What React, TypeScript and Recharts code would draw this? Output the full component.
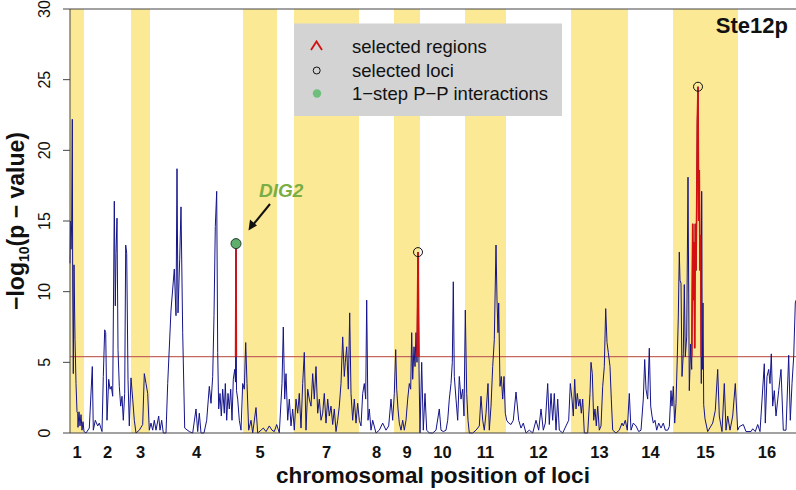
import React from "react";
import {
  ComposedChart,
  Line,
  Scatter,
  XAxis,
  YAxis,
  ReferenceArea,
  ReferenceLine,
} from "recharts";

// chromosome layout along the locus axis
const chromNames = ["1", "2", "3", "4", "5", "6", "7", "8", "9", "10", "11", "12", "13", "14", "15", "16"];
const chromStarts = [0, 14, 61, 80, 173, 207, 224, 289, 324, 350, 395, 436, 501, 558, 603, 668];
const genomeEnd = 726;
const skippedLabels = ["6"]; // R dropped this one (overlap)

const yTicks = [0, 5, 10, 15, 20, 25, 30];
const threshold = 5.4;

// [locus position, -log10(p)]
const scan: [number, number][] = [
  // chr1
  [0, 12], [0.5, 15], [1, 13], [1.7, 15], [2.3, 22.2], [2.7, 10.4], [3.3, 4.2], [4, 11.9], [5, 6.6], [6, 3.5],
  [7, 1.5], [7.7, 1.4], [8, 0.4], [9, 1.5], [10, 0.5], [11, 1.3], [12, 0.2], [13, 0.8], [14, 0.1],
  // chr2
  [16, 0], [19.3, 0.35], [22.3, 4.7], [23.3, 0.2], [25.3, 0.9], [27.7, 0.5], [29.3, 0.7], [32, 0.1], [33.3, 4],
  [34.7, 7.3], [35.7, 7.1], [37, 0.9], [38.7, 3.8], [40, 3.1], [41.3, 3.3], [42.7, 2.6], [44.3, 16.4], [45.3, 9],
  [46, 12.7], [47, 15.2], [48, 5.9], [49.3, 3.3], [50.7, 1.9], [52, 2.6], [53.3, 0.9], [54.7, 2.8], [55.7, 13.3],
  [56.7, 12.7], [58, 3.8], [59.3, 0.5],
  // chr3
  [61, 3.9], [62.7, 2.4], [64.3, 0.9], [66, 0], [69.3, 0.2], [72.7, 0.6], [74.3, 4.2], [76, 3.5], [77.7, 2.8], [79.3, 0.2],
  // chr4
  [81, 0.7], [82.7, 0.2], [84.3, 0.9], [86, 0.2], [88.7, 1.2], [90, 0.2], [91.7, 0.9], [93.3, 0], [96, 0], [97.7, 3.5],
  [101, 8.7], [104.3, 11.6], [106, 8.3], [107, 18.7], [108, 8.5], [109.7, 12.3], [111, 16], [112.7, 7.1], [114.7, 0.35],
  [119.3, 0.1], [122.7, 0], [126, 1.7], [127.7, 0.1], [129.3, 1.4], [131, 0], [134, 0], [136.7, 0.9], [139.3, 3.3],
  [141, 2.1], [142.7, 4], [144, 8.3], [145.3, 14.6], [146.7, 17.1], [147.7, 5.7], [148.7, 1.7], [150, 2.8], [151.3, 1.2],
  [152.7, 3.1], [154.3, 1.4], [155.3, 3.5], [156.7, 0.9], [158, 2.8], [159.3, 1.7], [160.7, 3.1], [162, 0.9], [163.3, 3.8],
  [164.7, 4.5], [165.5, 3.6], [166, 13.4], [166.5, 3], [167.7, 2.4], [169.3, 0.9], [171, 0.2], [172.7, 3.5],
  // chr5
  [174.3, 3.1], [175.7, 6.4], [177, 3.5], [178.7, 0.2], [181, 0.9], [182.7, 0], [186, 1.8], [187.7, 0], [191, 0.2],
  [193.3, 0.35], [196, 0.1], [199.3, 0.5], [202, 0.2], [204.3, 0.1], [206.7, 0.6],
  // chr6
  [209.3, 0], [212, 3.5], [213.3, 7.5], [214.7, 2.4], [216, 4.2], [217.7, 0.9], [219.3, 2.4], [221, 0.5], [222.7, 1.7], [224.3, 0.2],
  // chr7
  [226, 2.4], [227.7, 1.4], [229.3, 2.8], [231, 0.35], [232.7, 3.5], [234.3, 5.7], [236, 0.2], [237.7, 3.1], [239.3, 2.4],
  [241, 1.9], [242.7, 4.2], [244.3, 2.4], [246, 4.7], [247.7, 1.4], [249.3, 2.4], [251, 0.9], [252.7, 1.4], [254.3, 2.8],
  [256, 0.7], [257.7, 2.4], [259.3, 1.2], [261, 1.9], [262.7, 0.6], [264.3, 1.7], [266, 0.1], [267.7, 0.9], [269.3, 1.9],
  [271, 3.5], [272.7, 6.8], [274.3, 4], [275.3, 5], [276.7, 6.1], [278.3, 3.1], [279.7, 8.5], [281, 2.8], [282.7, 0.9],
  [284.3, 2.4], [286, 0.7], [287.7, 2.1],
  // chr8
  [289.3, 0.9], [291, 0.5], [292.7, 2.8], [294.3, 3.5], [295.7, 2.4], [296.7, 9.4], [298, 0.9], [299.3, 1.7], [301, 0.2],
  [302.7, 0.9], [306, 0], [309.3, 0.2], [312.7, 0.7], [316, 0.2], [318.7, 0.5], [321, 2.4], [322.7, 0.9],
  // chr9
  [324.3, 2.8], [325.7, 5.9], [326.7, 3.1], [328, 1.7], [329.3, 0.7], [331, 0.2], [332.7, 0.9], [334.3, 0.2], [336, 0.9],
  [337.7, 2.4], [339.3, 3.5], [340.7, 3.1], [341.7, 7.1], [342.7, 3.8], [344, 6.1], [345, 4.7], [346, 7.1], [347, 5],
  [348, 12.8], [349, 4.5], [350, 0],
  // chr10
  [351.7, 5], [353.3, 0.2], [355, 2.8], [356.7, 0.2], [359.3, 0], [362.7, 0], [366, 0.2], [369.3, 1.7], [371, 0.2],
  [373.3, 0.1], [376, 0.2], [377.7, 0.9], [379.3, 2.4], [381, 3.5], [382.3, 5], [383.3, 10.7], [384.3, 4], [386, 2.4],
  [387.7, 0.9], [389.3, 4], [391, 2.4], [392.7, 3.1], [394, 1.2],
  // chr11
  [395.3, 8.7], [396.7, 2.8], [398, 0.9], [399.3, 0], [402.7, 0], [406, 0.2], [409.3, 0.5], [411, 2.6], [412.7, 0.9],
  [414.3, 0.2], [416, 1.4], [418, 3.5], [419.3, 0.2], [421, 1.9], [422.7, 4.7], [424.3, 6.6], [426, 13.3], [427, 9.4],
  [428, 7.1], [428.7, 9.2], [430, 3.3], [431.3, 4], [432.7, 2.4], [434, 4], [435.3, 1.4],
  // chr12
  [436.7, 0.9], [438.7, 0.7], [441, 0.6], [443.3, 0.9], [446, 2.9], [448.7, 0.9], [451, 0.35], [453.3, 0.7], [456, 0],
  [459.3, 0.2], [462.7, 0], [466, 0.9], [468.7, 0.2], [471, 1.7], [473.3, 0.2], [475.3, 0.7], [477.7, 3.5], [479.3, 0.6],
  [481, 2.8], [482.7, 0.9], [484.3, 2.8], [486, 0.2], [487.7, 2.4], [489.3, 0.2], [492.7, 0], [496, 0.5], [498.7, 0.9],
  [500.3, 3.5],
  // chr13
  [502, 2.4], [503.3, 1.2], [504.7, 3.8], [506, 1.7], [507.3, 2.8], [508.7, 1.9], [510, 2.4], [511.3, 1.4], [512.7, 2.4],
  [514.3, 0], [517.7, 0], [520, 2.8], [521, 5], [522.3, 4.2], [523.7, 0.9], [525, 1.7], [526.3, 0.5], [527.7, 1.9],
  [529.3, 0.2], [531, 0.5], [532.7, 3.3], [534.3, 4.7], [535.7, 8.8], [537, 6.4], [538.3, 5.7], [540, 4.7], [541.3, 2.4],
  [542.7, 0.2], [546, 0], [549.3, 0.2], [552, 0.7], [553.3, 0.5], [555.3, 0.9], [557.3, 0.2],
  // chr14
  [559.3, 2.8], [561, 0.2], [563.3, 0.7], [566, 0.5], [568.7, 0.1], [571, 0.2], [573.3, 2.4], [574.7, 5.2], [576, 3.1],
  [577.7, 2.4], [579.3, 6], [580.7, 1.9], [582, 1.2], [583.3, 0.7], [585, 0.9], [586.7, 0.2], [588.7, 0.7], [591, 0.35],
  [593.3, 0.7], [595.3, 0.2], [597.7, 0.2], [599.3, 0.45], [601, 3], [602, 1.9],
  // chr15
  [603.3, 3.3], [604.7, 0.7], [606, 2.1], [607.3, 5.4], [608.3, 8.2], [609.3, 12.8], [610, 10.8], [611, 10.6], [612, 4],
  [613.3, 5.6], [614.3, 10.5], [615.3, 5.4], [616.7, 6.8], [618, 18.1], [618.7, 9.9], [619.3, 3], [620.7, 6.3], [621.7, 4.5],
  [622.7, 14.8], [623.3, 9.4], [624, 13.5], [624.7, 6], [625.3, 14.8], [626, 11.5], [626.7, 16], [627.3, 22], [628, 24.5],
  [628.7, 15], [629.3, 18.6], [630, 11.5], [630.7, 14], [631.3, 3.5], [631.7, 17.1], [632.3, 4.5], [633, 9.2], [633.7, 2],
  [635, 1], [637.7, 0.1], [642.7, 0.7], [645.3, 1.6], [647.7, 4.5], [649.3, 1.2], [652, 0.1], [654.3, 3.5], [656, 0.2],
  [657.7, 1.2], [660, 0.2], [662.7, 1.2], [665.3, 3.5], [667.7, 0.2],
  // chr16
  [669.3, 0.45], [673.3, 0.6], [676, 0.1], [681, 0.1], [682.7, 0.3], [685.3, 0.1], [687.7, 0.6], [690, 0.1], [694.3, 4.9],
  [695.3, 0.7], [697, 4], [698.7, 4.5], [700, 3.5], [701.3, 5.6], [702.7, 1.9], [704.3, 3], [706, 1.2], [708.7, 3],
  [711, 4.5], [713.3, 0.2], [716, 0.2], [718.7, 5.5], [720.3, 0.9], [722, 3.5], [723.7, 5.4], [725.3, 9.2], [726, 9.4],
];

// selected regions (drawn red where above threshold)
const selectedRegions: [number, number][] = [[165.8, 166.2], [347.5, 348.5], [622, 631.5]];
// selected loci (open circles) and 1-step P-P interaction (green dot)
const selectedLoci = [{ pos: 348, p: 12.8 }, { pos: 628, p: 24.5 }];
const ppInteractions = [{ pos: 166, p: 13.4, gene: "DIG2" }];

const FONT = '"Liberation Sans", Arial, Helvetica, sans-serif';
const YELLOW = "#fbe995";
const BLUE = "#14148a";
const RED = "#d41010";

const scanData = scan.map(([pos, p]) => ({ pos, p }));

function crossAt(a: [number, number], b: [number, number]) {
  return a[0] + ((threshold - a[1]) / (b[1] - a[1])) * (b[0] - a[0]);
}

function clipRegion([lo, hi]: [number, number]) {
  const out: { pos: number; p: number | null }[] = [];
  scan.forEach((pt, i) => {
    if (pt[0] < lo || pt[0] > hi || pt[1] < threshold) return;
    const prev = scan[i - 1];
    const next = scan[i + 1];
    if (prev && prev[1] < threshold) out.push({ pos: crossAt(prev, pt), p: threshold });
    out.push({ pos: pt[0], p: pt[1] });
    if (next && next[1] < threshold) {
      const x = crossAt(pt, next);
      out.push({ pos: x, p: threshold });
      out.push({ pos: x + 0.01, p: null });
    }
  });
  return out;
}

const chromBands = chromStarts.map((s, i) => ({
  name: chromNames[i],
  x1: s,
  x2: i + 1 < chromStarts.length ? chromStarts[i + 1] : genomeEnd,
}));
const labelTicks = chromBands.filter((c) => !skippedLabels.includes(c.name)).map((c) => (c.x1 + c.x2) / 2);
const labelFor = (v: number) => chromBands.find((c) => (c.x1 + c.x2) / 2 === v)?.name ?? "";

const XTick = ({ x, y, payload }: any) => (
  <text x={x} y={y + 17} textAnchor="middle" fontSize={16.5} fontWeight="bold" fill="#111" fontFamily={FONT}>
    {labelFor(payload.value)}
  </text>
);

const YTick = ({ x, y, payload }: any) => (
  <text
    x={x - 11}
    y={y}
    transform={`rotate(-90 ${x - 11} ${y})`}
    textAnchor="middle"
    fontSize={16}
    fill="#111"
    fontFamily={FONT}
  >
    {payload.value}
  </text>
);

const OpenCircle = ({ cx, cy }: any) => <circle cx={cx} cy={cy} r={4.5} fill="none" stroke="#111" strokeWidth={1} />;
const GreenDot = ({ cx, cy }: any) => <circle cx={cx} cy={cy} r={5} fill="#5fae6c" stroke="#2b3a2e" strokeWidth={1} />;

export default function App() {
  return (
    <div style={{ position: "absolute", left: 0, top: 0, width: 796, height: 490, background: "#fff", fontFamily: FONT }}>
      <ComposedChart width={796} height={490} margin={{ top: 9, right: 0, bottom: 0, left: 0 }}>
        {chromBands
          .filter((_, i) => i % 2 === 0)
          .map((c) => (
            <ReferenceArea key={c.name} x1={c.x1} x2={c.x2} y1={0} y2={30} fill={YELLOW} fillOpacity={1} stroke="none" />
          ))}
        <XAxis
          type="number"
          dataKey="pos"
          domain={[0, genomeEnd]}
          ticks={labelTicks}
          interval={0}
          height={57}
          tickLine={false}
          axisLine={{ stroke: "#444" }}
          tick={<XTick />}
          label={{
            content: ({ viewBox }: any) => (
              <text
                x={viewBox.x + viewBox.width / 2}
                y={viewBox.y + 50}
                textAnchor="middle"
                fontSize={22.5}
                fontWeight="bold"
                fill="#111"
                fontFamily={FONT}
              >
                chromosomal position of loci
              </text>
            ),
          }}
        />
        <YAxis
          type="number"
          domain={[0, 30]}
          ticks={yTicks}
          width={70}
          tickSize={7}
          tickLine={{ stroke: "#444" }}
          axisLine={{ stroke: "#444" }}
          tick={<YTick />}
          label={{
            content: ({ viewBox }: any) => {
              const cx = 24;
              const cy = viewBox.y + viewBox.height / 2;
              return (
                <text
                  transform={`translate(${cx} ${cy}) rotate(-90)`}
                  textAnchor="middle"
                  fontSize={23}
                  fontWeight="bold"
                  fill="#111"
                  fontFamily={FONT}
                >
                  −log
                  <tspan fontSize={14} dy={5}>10</tspan>
                  <tspan dy={-5}>(p − value)</tspan>
                </text>
              );
            },
          }}
        />
        <ReferenceLine y={30} stroke="#444" strokeWidth={1} />
        <ReferenceLine y={threshold} stroke="#c4675c" strokeWidth={1.2} />
        <Line
          data={scanData}
          dataKey="p"
          type="linear"
          stroke={BLUE}
          strokeWidth={1}
          dot={false}
          activeDot={false}
          isAnimationActive={false}
        />
        {selectedRegions.map((r, i) => (
          <Line
            key={i}
            data={clipRegion(r)}
            dataKey="p"
            type="linear"
            stroke={RED}
            strokeWidth={1.6}
            dot={false}
            activeDot={false}
            connectNulls={false}
            isAnimationActive={false}
          />
        ))}
        <Scatter data={selectedLoci} dataKey="p" shape={<OpenCircle />} isAnimationActive={false} />
        <Scatter data={ppInteractions} dataKey="p" shape={<GreenDot />} isAnimationActive={false} />
      </ComposedChart>

      <svg width={796} height={490} style={{ position: "absolute", left: 0, top: 0, pointerEvents: "none" }}>
        {/* legend */}
        <rect x={294} y={23.5} width={268} height={92.5} fill="#d3d3d3" />
        <polyline points="311,50 316.5,41.5 322,50" fill="none" stroke={RED} strokeWidth={1.8} />
        <circle cx={316.7} cy={70.5} r={3.5} fill="none" stroke="#111" strokeWidth={1} />
        <circle cx={317} cy={93.5} r={4.2} fill="#6dbf7b" />
        <g fontSize={18.5} fill="#111" fontFamily={FONT}>
          <text x={352} y={53}>selected regions</text>
          <text x={352} y={77}>selected loci</text>
          <text x={352} y={100}>1−step P−P interactions</text>
        </g>
        <text x={788} y={33} textAnchor="end" fontSize={22} fontWeight="bold" fill="#111" fontFamily={FONT}>
          Ste12p
        </text>
        {/* DIG2 annotation */}
        <text x={259} y={197} fontSize={19} fontWeight="bold" fontStyle="italic" fill="#7aae45" fontFamily={FONT}>
          {ppInteractions[0].gene}
        </text>
        <line x1={270} y1={204} x2={252} y2={226} stroke="#111" strokeWidth={2} />
        <polygon points="248.5,230.5 250,219.5 257,225.5" fill="#111" />
      </svg>
    </div>
  );
}
